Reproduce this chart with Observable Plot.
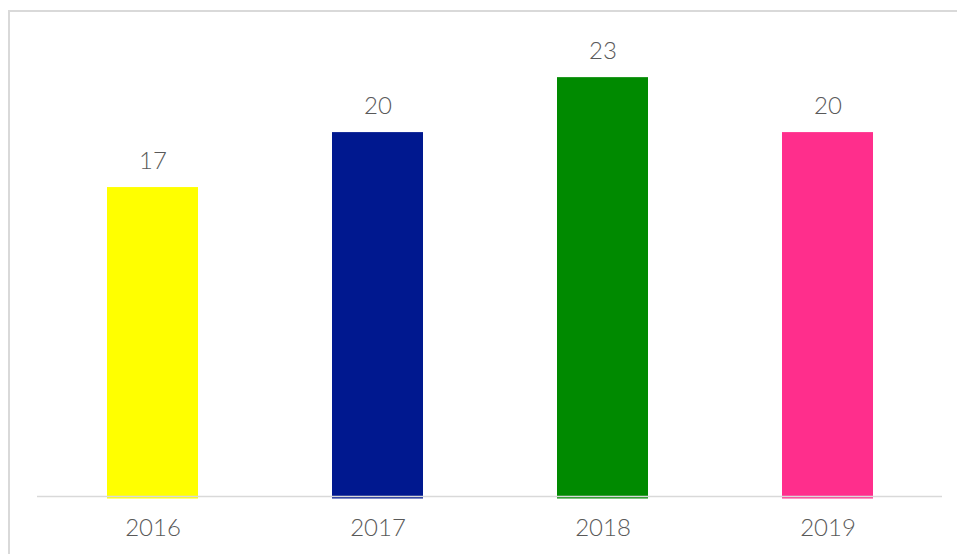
<!DOCTYPE html>
<html>
<head>
<meta charset="utf-8">
<script src="https://cdn.jsdelivr.net/npm/d3@7"></script>
<script src="https://cdn.jsdelivr.net/npm/@observablehq/plot@0.6"></script>
<style>
  html, body { margin: 0; padding: 0; background: #fff; overflow: hidden; width: 957px; height: 554px; }
  #frame { position: absolute; left: 8px; top: 10px; width: 1000px; height: 600px; border: 2px solid #d9d9d9; box-sizing: border-box; }
  #chart { position: absolute; left: 0; top: 0; }
</style>
</head>
<body>
<div id="frame"></div>
<div id="chart"></div>
<script>
const years = ["2016", "2017", "2018", "2019"];
const values = [17, 20, 23, 20];
const colors = ["#ffff00", "#00188f", "#008a00", "#ff2e8c"];

const data = years.map((y, i) => ({year: y, value: values[i], color: colors[i]}));

const font = "Lato, 'Open Sans', sans-serif";

const chart = Plot.plot({
  width: 957,
  height: 554,
  marginLeft: 37,
  marginRight: 15,
  marginTop: 40.5,
  marginBottom: 55.5,
  style: {background: "transparent", fontFamily: font},
  x: {domain: years, padding: 0.596, paddingOuter: 0.305, align: 0.5, label: null},
  y: {domain: [0, 25], axis: null},
  marks: [
    Plot.barY(data, {x: "year", y: "value", fill: "color"}),
    Plot.ruleY([0], {stroke: "#d9d9d9", strokeWidth: 1.5, dy: -2.5}),
    Plot.text(data, {x: "year", y: "value", text: d => String(d.value), dy: -26, fontSize: 24, fill: "#595959", fontWeight: 300}),
    Plot.axisX({tickSize: 0, tickPadding: 20, fontSize: 24, fill: "#595959", fontWeight: 300, label: null})
  ]
});
document.getElementById("chart").appendChild(chart);
</script>
</body>
</html>
